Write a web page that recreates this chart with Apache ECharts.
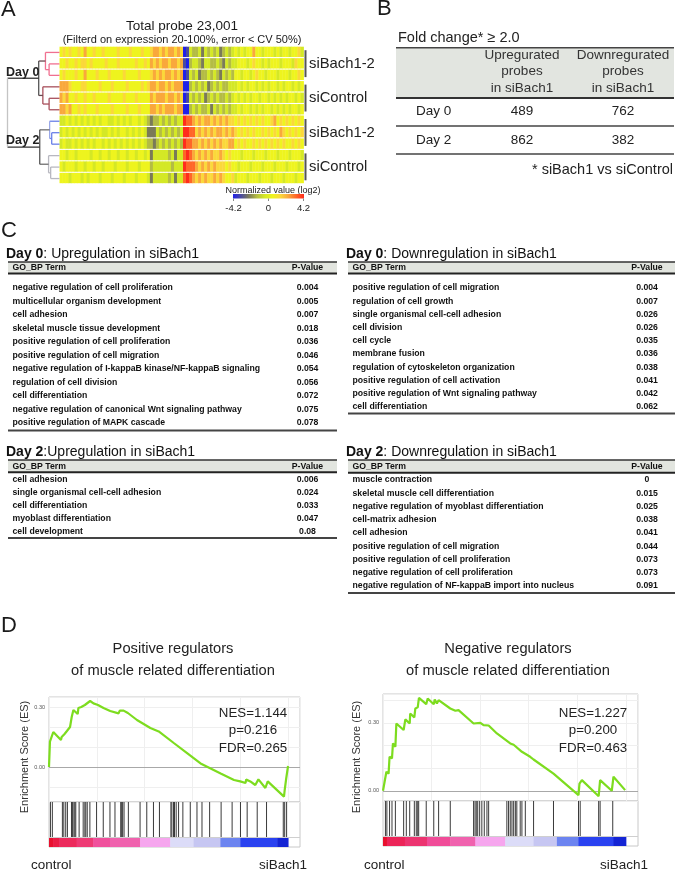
<!DOCTYPE html>
<html><head><meta charset="utf-8">
<script src="https://cdn.jsdelivr.net/npm/echarts@6/dist/echarts.min.js"></script>
<style>html,body{margin:0;padding:0;background:#fff}#c{width:677px;height:870px}</style>
</head><body><div id="c"></div>
<script>
const FONT = '"Liberation Sans", Arial, Helvetica, sans-serif';

// ---------- Panel A: heatmap ----------
const heatGroupLabels = ['siBach1-2', 'siControl', 'siBach1-2', 'siControl'];
const heatLevelValues = [-4.2, -3.27, -2.33, -1.4, -0.47, 0.47, 1.4, 2.33, 3.27, 4.2];
const heatColors = ['#2020e8', '#4a4aa0', '#7a7a58', '#b4bc44', '#d4e826', '#eef41e', '#fbd83a', '#f9a83c', '#ff6628', '#ff2c1c'];
const heatTickLabels = ['-4.2', '0', '4.2'];
const heatRows = [
 '56565565 7 556556555565556555655 67767677676 01 433424343423434 54545575545554545545564',
 '55655656 6 565555655565555565565 76767767767 10 344324433432434 45554565545455545554655',
 '56555655 7 555655565555655556555 67676776767 01 434233434324343 55455456554555455545565',
 '77765556 6 555565556555565555656 77677676777 00 343434234343344 45454554545455454554545',
 '76755655 6 556555565555655565555 76777677676 01 434342343433434 54545455455454545455454',
 '77675565 6 555655556555565556555 77676777677 00 343433424343434 45455454545545454545545',
 '44545454 5 454545544545454554543 23343434344 98 876767767676766 56565656565567565656565',
 '45454545 4 545454454545545454542 22434343434 99 886767676776767 65656565565656576565656',
 '45445454 5 454554545454545454543 32343434343 98 877676767676677 56565565656565656556565',
 '55455455 5 545545545545545545545 24444434244 89 876767676676565 55455545554555455545554',
 '54555455 4 554554555455545554555 34444443444 98 887676767666565 54555455545554555455545',
 '55545554 5 455545554555455545554 24444434244 89 876767667676556 45554555455545554555455'
];
// dendrogram merges: [childA, childB, height, stubColor, verticalColor]
const dendroMerges = [
 ['r1', 'r2', 0.20, '#f07090', '#f07090'],
 ['r0', 'm0', 0.27, '#f07090', '#f07090'],
 ['r4', 'r5', 0.20, '#a8505c', '#a8505c'],
 ['r3', 'm2', 0.32, '#a8505c', '#a8505c'],
 ['m1', 'm3', 0.40, '#6a4a50', '#555555'],
 ['r7', 'r8', 0.15, '#6a80e8', '#6a80e8'],
 ['r6', 'm5', 0.19, '#6a80e8', '#9aa8e8'],
 ['r10', 'r11', 0.17, '#b8b8c0', '#b8b8c0'],
 ['r9', 'm7', 0.21, '#b8b8c0', '#b8b8c0'],
 ['m6', 'm8', 0.38, '#707070', '#555555'],
 ['m4', 'm9', 1.00, '#333333', '#c4c4c4']
];
const dayLabels = ['Day 0', 'Day 2'];

// ---------- Panel B ----------
const foldHeaders = ['Upregurated\nprobes\nin siBach1', 'Downregurated\nprobes\nin siBach1'];
const foldDays = ['Day 0', 'Day 2'];
const foldUp = [489, 862];
const foldDown = [762, 382];

// ---------- Panel C ----------
const day0UpTerms = ['negative regulation of cell proliferation', 'multicellular organism development', 'cell adhesion', 'skeletal muscle tissue development', 'positive regulation of cell proliferation', 'positive regulation of cell migration', 'negative regulation of I-kappaB kinase/NF-kappaB signaling', 'regulation of cell division', 'cell differentiation', 'negative regulation of canonical Wnt signaling pathway', 'positive regulation of MAPK cascade'];
const day0UpP = ['0.004', '0.005', '0.007', '0.018', '0.036', '0.046', '0.054', '0.056', '0.072', '0.075', '0.078'];
const day0DownTerms = ['positive regulation of cell migration', 'regulation of cell growth', 'single organismal cell-cell adhesion', 'cell division', 'cell cycle', 'membrane fusion', 'regulation of cytoskeleton organization', 'positive regulation of cell activation', 'positive regulation of Wnt signaling pathway', 'cell differentiation'];
const day0DownP = ['0.004', '0.007', '0.026', '0.026', '0.035', '0.036', '0.038', '0.041', '0.042', '0.062'];
const day2UpTerms = ['cell adhesion', 'single organismal cell-cell adhesion', 'cell differentiation', 'myoblast differentiation', 'cell development'];
const day2UpP = ['0.006', '0.024', '0.033', '0.047', '0.08'];
const day2DownTerms = ['muscle contraction', 'skeletal muscle cell differentiation', 'negative regulation of myoblast differentiation', 'cell-matrix adhesion', 'cell adhesion', 'positive regulation of cell migration', 'positive regulation of cell proliferation', 'negative regulation of cell proliferation', 'negative regulation of NF-kappaB import into nucleus'];
const day2DownP = ['0', '0.015', '0.025', '0.038', '0.041', '0.044', '0.073', '0.073', '0.091'];

// ---------- Panel D ----------
const posTitle = ['Positive regulators', 'of muscle related differentiation'];
const negTitle = ['Negative regulators', 'of muscle related differentiation'];
const posStats = ['NES=1.144', 'p=0.216', 'FDR=0.265'];
const negStats = ['NES=1.227', 'p=0.200', 'FDR=0.463'];
const posES = [[0,0],[0.4,0],[0.4,0.127],[1.8,0.175],[5.0,0.135],[5.3,0.15],[6.5,0.165],[7.5,0.18],[8.8,0.2],[9.5,0.25],[10.2,0.285],[12.0,0.265],[12.3,0.295],[13.5,0.30],[15.0,0.31],[17.2,0.33],[18.6,0.318],[20.5,0.31],[22.8,0.295],[25.6,0.28],[29.1,0.268],[29.6,0.282],[31.2,0.282],[33,0.27],[36.8,0.235],[42.4,0.195],[45.9,0.178],[52.2,0.12],[57.9,0.068],[63.4,0.018],[67.6,-0.007],[71.8,-0.032],[77.4,-0.065],[80,-0.072],[82.2,-0.08],[82.5,-0.062],[84.2,-0.072],[86.3,-0.09],[87.6,-0.062],[90.5,-0.105],[91.5,-0.072],[98.3,-0.148],[98.6,-0.115],[99.2,-0.06],[99.7,-0.065],[100,0.005]];
const negES = [[0,0],[0.7,-0.004],[1.4,0.084],[2.3,0.076],[2.7,0.15],[3.7,0.143],[4.1,0.209],[5.1,0.194],[5.5,0.297],[8.5,0.268],[9.2,0.315],[11.0,0.297],[11.2,0.341],[12.9,0.324],[13.3,0.363],[14.3,0.368],[14.8,0.41],[17.8,0.382],[18.4,0.407],[20.9,0.382],[21.3,0.403],[22.2,0.385],[22.9,0.40],[27.7,0.363],[28.3,0.37],[29.8,0.353],[31.1,0.356],[37.3,0.297],[37.9,0.304],[40.1,0.30],[41.4,0.29],[43.5,0.288],[46.9,0.253],[52.4,0.209],[53.8,0.203],[57.2,0.172],[60.6,0.15],[62,0.138],[70.2,0.076],[70.9,0.082],[80.5,-0.019],[80.9,0.032],[81.9,0.047],[88.8,-0.024],[89.4,0.047],[94.2,0.0],[94.9,0.062],[99.7,0.003]];
const posHits = [0.6,1.4,5.6,6.2,7.0,7.7,9.4,9.8,10.4,10.8,11.2,12.6,14.3,15.0,15.4,16.0,17.1,19.9,22.7,25.5,27.6,30.0,30.4,30.8,31.4,33.2,38.1,40.9,43.7,46.2,51.0,51.4,52.1,52.5,53.2,54.2,56.0,59.1,61.9,64.0,67.2,72.0,76.6,80.1,82.9,87.1,91.0,98.0,98.6,99.4];
const negHits = [1.0,1.6,2.7,3.7,5.1,8.5,9.6,11.0,12.9,13.7,14.3,14.7,17.8,20.9,22.9,27.7,37.3,37.9,38.4,39.0,39.8,40.7,41.7,42.8,43.5,51.0,51.7,52.4,53.1,53.8,54.5,55.1,56.5,57.2,58.6,62.0,70.2,80.5,81.2,88.8,89.4,94.6];
const posBands = [[0,1.7,'#e8102e'],[1.7,4.2,'#ea1c44'],[4.2,11.5,'#ec2a5c'],[11.5,18.5,'#ee3a74'],[18.5,25.5,'#f0509c'],[25.5,38.1,'#f062ae'],[38.1,50.7,'#f6a6ee'],[50.7,60.5,'#dcdcf8'],[60.5,71.7,'#c6c6f2'],[71.7,80.1,'#6c84f0'],[80.1,95.5,'#2a42f0'],[95.5,100,'#1424d4']];
const negBands = [[0,1.6,'#e8102e'],[1.6,9,'#ec2458'],[9,18.1,'#ec3470'],[18.1,27.7,'#f04c98'],[27.7,38,'#f062ae'],[38,50.3,'#f6a6ee'],[50.3,62,'#dcdcf8'],[62,71.6,'#c6c6f2'],[71.6,80.5,'#6c84f0'],[80.5,94.9,'#2a42f0'],[94.9,100,'#1424d4']];

// ---------- build ----------
const chart = echarts.init(document.getElementById('c'), null, {renderer: 'canvas'});

const heatData = [];
const rowStrs = heatRows.map(s => s.replace(/ /g, ''));
const nCols = rowStrs[0].length;
rowStrs.forEach((s, r) => { for (let c = 0; c < s.length; c++) heatData.push([c, r, heatLevelValues[+s[c]]]); });

const pos = {}, hgt = {};
for (let i = 0; i < 12; i++) { pos['r' + i] = i + 0.5; hgt['r' + i] = 0; }
const dendroData = [];
dendroMerges.forEach((m, i) => {
  const [a, b, h] = m;
  dendroData.push([pos[a], pos[b], hgt[a], hgt[b], h]);
  pos['m' + i] = (pos[a] + pos[b]) / 2; hgt['m' + i] = h;
});

const G = [];
function T(x, y, text, size, o) {
  o = o || {};
  const al = o.align || 'left', va = o.va || 'middle';
  const st = {text: text, fontSize: size, fontFamily: FONT, fontWeight: o.bold ? 'bold' : 'normal', fill: o.color || '#1a1a1a',
    align: al, textAlign: al, verticalAlign: va, textVerticalAlign: va};
  if (o.lineHeight) st.lineHeight = o.lineHeight;
  if (o.rich) st.rich = o.rich;
  const el = {type: 'text', x: x, y: y, silent: true, z: 100, style: st};
  if (o.rotation) el.rotation = o.rotation;
  G.push(el);
}
function L(x1, y1, x2, y2, color, w) {
  G.push({type: 'line', silent: true, z: 100, shape: {x1, y1, x2, y2}, style: {stroke: color, lineWidth: w}});
}
function R(x, y, w, h, fill, z) {
  G.push({type: 'rect', silent: true, z: z || 90, shape: {x, y, width: w, height: h}, style: {fill: fill}});
}

// Panel A texts
const HX = 59.5, HY = 46.7, HW = 244, HH = 137.6;
T(1, 10, 'A', 22);
T(182, 26, 'Total probe 23,001', 13.5, {align: 'center'});
T(182, 39.5, '(Filterd on expression 20-100%, error < CV 50%)', 11, {align: 'center'});
const rowH = HH / 12;
heatGroupLabels.forEach((lab, g) => {
  const y0 = HY + g * 3 * rowH, y1 = y0 + 3 * rowH;
  L(305.5, y0 + 3.5, 305.5, y1 - 4, '#555', 2);
  T(309, (y0 + y1) / 2, lab, 14.8, {color: '#222'});
});
const dayNodeY = [HY + pos['m4'] * rowH, HY + pos['m9'] * rowH];
dayLabels.forEach((d, i) => T(6, dayNodeY[i] + 0.5, d, 12.5, {bold: true, va: 'bottom', color: '#222'}));
T(273, 190.5, 'Normalized value (log2)', 9, {align: 'center', color: '#222'});
G.push({type: 'rect', silent: true, z: 100, shape: {x: 233, y: 194, width: 71, height: 4.5},
  style: {fill: new echarts.graphic.LinearGradient(0, 0, 1, 0, heatColors.map((c, i) => ({offset: i / (heatColors.length - 1), color: c})))}});
[233.5, 268.5, 303.5].forEach((x, i) => { L(x, 198.5, x, 201, '#888', 1); T(x, 208.5, heatTickLabels[i], 9.5, {align: 'center', color: '#222'}); });

// Panel B
T(377, 9, 'B', 22);
T(398, 38, 'Fold change* \u2265 2.0', 14.5, {color: '#222'});
R(396, 48, 278, 49.5, '#e2e5e0');
L(396, 47.7, 674, 47.7, '#444', 1.5);
L(396, 98, 674, 98, '#333', 2);
const foldCX = [522, 623];
foldHeaders.forEach((h, i) => T(foldCX[i], 71.7, h, 13.5, {align: 'center', lineHeight: 16.3, color: '#333'}));
const foldY = [111.7, 140];
foldDays.forEach((d, i) => {
  T(416, foldY[i], d, 13.5, {color: '#222'});
  T(foldCX[0], foldY[i], String(foldUp[i]), 13.5, {align: 'center', color: '#222'});
  T(foldCX[1], foldY[i], String(foldDown[i]), 13.5, {align: 'center', color: '#222'});
});
L(396, 126, 674, 126, '#444', 1.5);
L(396, 154, 674, 154, '#444', 1.5);
T(673, 170, '* siBach1 vs siControl', 14.5, {align: 'right', color: '#222'});

// Panel C
T(1, 231, 'C', 22);
function goTable(x0, x1, titleBold, titleRest, titleY, topY, headBotY, rowY0, rowStep, botY, terms, pvals, pCX) {
  T(x0 - 2, titleY, '{b|' + titleBold + '}' + titleRest, 14, {rich: {b: {fontWeight: 'bold', fontSize: 14, fontFamily: FONT, fill: '#111', color: '#111'}}, color: '#111'});
  R(x0, topY, x1 - x0, headBotY - topY, '#e2e5df');
  L(x0, topY, x1, topY, '#333', 1.6);
  L(x0, headBotY, x1, headBotY, '#222', 2);
  T(x0 + 4.5, (topY + headBotY) / 2 + 0.3, 'GO_BP Term', 8.7, {bold: true, color: '#111'});
  T(pCX, (topY + headBotY) / 2 + 0.3, 'P-Value', 8.7, {bold: true, color: '#111', align: 'center'});
  terms.forEach((t, i) => {
    const y = rowY0 + i * rowStep;
    T(x0 + 4.5, y, t, 8.7, {bold: true, color: '#111'});
    T(pCX, y, pvals[i], 8.7, {bold: true, color: '#111', align: 'center'});
  });
  L(x0, botY, x1, botY, '#444', 2);
}
goTable(8, 337, 'Day 0', ': Upregulation in siBach1', 254, 262, 273.5, 288, 13.5, 430.5, day0UpTerms, day0UpP, 307.5);
goTable(348, 675, 'Day 0', ': Downregulation in siBach1', 254, 262, 273.5, 288, 13.2, 413.5, day0DownTerms, day0DownP, 647);
goTable(8, 337, 'Day 2', ':Upregulation in siBach1', 451.7, 460, 472.3, 480, 12.95, 538, day2UpTerms, day2UpP, 307.5);
goTable(348, 675, 'Day 2', ': Downregulation in siBach1', 451.7, 460, 472.7, 480, 13.25, 593, day2DownTerms, day2DownP, 647);

// Panel D texts
T(1, 626, 'D', 22);
posTitle.forEach((t, i) => T(173, 649 + i * 22, t, 14.7, {align: 'center', color: '#222'}));
negTitle.forEach((t, i) => T(508, 649 + i * 22, t, 14.7, {align: 'center', color: '#222'}));
posStats.forEach((t, i) => T(253, 713 + i * 17.5, t, 13.3, {align: 'center', color: '#222'}));
negStats.forEach((t, i) => T(593, 713 + i * 17.5, t, 13.3, {align: 'center', color: '#222'}));
T(25, 757, 'Enrichment Score (ES)', 11, {align: 'center', rotation: Math.PI / 2, color: '#333'});
T(357, 757, 'Enrichment Score (ES)', 11, {align: 'center', rotation: Math.PI / 2, color: '#333'});
T(31, 865, 'control', 13.5, {color: '#222'});
T(307, 865, 'siBach1', 13.5, {align: 'right', color: '#222'});
T(364, 865, 'control', 13.5, {color: '#222'});
T(648, 865, 'siBach1', 13.5, {align: 'right', color: '#222'});

// ----- axes -----
const hidden = (gi, min, max, inv) => ({gridIndex: gi, type: 'value', min: min, max: max, inverse: !!inv, show: false});
const BAR_SPLIT = 0.222;
function esY(gi, min, max) {
  return {gridIndex: gi, type: 'value', min: min, max: max,
    axisLine: {show: false}, axisTick: {show: false},
    axisLabel: {fontSize: 5.5, color: '#555', margin: 4, fontFamily: FONT, customValues: [0, 0.3],
      formatter: v => (Math.abs(v) < 1e-6 || Math.abs(v - 0.3) < 1e-6) ? v.toFixed(2) : ''},
    splitLine: {show: true, lineStyle: {color: '#efefef', width: 1}}};
}
function esX(gi) {
  return {gridIndex: gi, type: 'value', min: 0, max: 105,
    axisLine: {show: false}, axisTick: {show: false}, axisLabel: {show: false},
    splitLine: {show: true, lineStyle: {color: '#efefef', width: 1}}};
}
const gridBorder = {show: true, borderColor: '#c8c8c8', borderWidth: 1, backgroundColor: 'transparent'};

function esSeries(xi, data) {
  return {type: 'line', xAxisIndex: xi, yAxisIndex: xi, data: data, showSymbol: false, symbol: 'none',
    lineStyle: {color: '#7ddc1f', width: 2.2}, z: 5, silent: true,
    markLine: {silent: true, symbol: 'none', label: {show: false}, animation: false,
      lineStyle: {color: '#a8a8a8', width: 1, type: 'solid'}, data: [{yAxis: 0}]}};
}
function hitSeries(xi, hits) {
  return {type: 'custom', xAxisIndex: xi, yAxisIndex: xi, data: hits.map(h => [h]), silent: true,
    renderItem: (params, api) => {
      const a = api.coord([api.value(0), BAR_SPLIT]), b = api.coord([api.value(0), 1]);
      return {type: 'line', shape: {x1: a[0], y1: a[1], x2: b[0], y2: b[1]}, style: {stroke: '#3a3a3a', lineWidth: 1}};
    },
    markLine: {silent: true, symbol: 'none', label: {show: false}, animation: false,
      lineStyle: {color: '#cfcfcf', width: 1, type: 'solid'}, data: [{yAxis: BAR_SPLIT}]}};
}
function bandSeries(xi, bands) {
  return {type: 'custom', xAxisIndex: xi, yAxisIndex: xi, data: bands.map(b => [b[0], b[1]]), silent: true,
    renderItem: (params, api) => {
      const a = api.coord([api.value(0), BAR_SPLIT]), b = api.coord([api.value(1), 0]);
      return {type: 'rect', shape: {x: a[0], y: a[1], width: b[0] - a[0] + 0.5, height: b[1] - a[1]},
        style: {fill: bands[params.dataIndex][2]}};
    }};
}

const option = {
  animation: false,
  backgroundColor: '#ffffff',
  grid: [
    {left: HX, top: HY, width: HW, height: HH},
    {left: 7.5, top: HY, width: HX - 7.5, height: HH},
    Object.assign({left: 49, top: 697, width: 251, height: 105}, gridBorder),
    Object.assign({left: 49, top: 802, width: 251, height: 45}, gridBorder),
    Object.assign({left: 383, top: 694, width: 255, height: 107}, gridBorder),
    Object.assign({left: 383, top: 801, width: 255, height: 45}, gridBorder)
  ],
  xAxis: [hidden(0, 0, nCols), hidden(1, 0, 1, true), esX(2), hidden(3, 0, 105), esX(4), hidden(5, 0, 105)],
  yAxis: [hidden(0, 0, 12, true), hidden(1, 0, 12, true), esY(2, -0.175, 0.35), hidden(3, 0, 1), esY(4, -0.045, 0.427), hidden(5, 0, 1)],
  visualMap: {type: 'continuous', show: false, min: -4.2, max: 4.2, dimension: 2, seriesIndex: 0, inRange: {color: heatColors}},
  series: [
    {type: 'custom', xAxisIndex: 0, yAxisIndex: 0, data: heatData, silent: true,
      renderItem: (params, api) => {
        const c = api.value(0), r = api.value(1);
        const p0 = api.coord([c, r]), p1 = api.coord([c + 1, r + 1]);
        const y = Math.min(p0[1], p1[1]);
        return {type: 'rect', shape: {x: p0[0], y: y, width: p1[0] - p0[0] + 0.4, height: Math.abs(p1[1] - p0[1]) - 1.1},
          style: {fill: api.visual('color')}};
      }},
    {type: 'custom', xAxisIndex: 1, yAxisIndex: 1, data: dendroData, silent: true,
      renderItem: (params, api) => {
        const yA = api.value(0), yB = api.value(1), hA = api.value(2), hB = api.value(3), h = api.value(4);
        const m = dendroMerges[params.dataIndex];
        const a0 = api.coord([hA, yA]), a1 = api.coord([h, yA]), b0 = api.coord([hB, yB]), b1 = api.coord([h, yB]);
        return {type: 'group', children: [
          {type: 'line', shape: {x1: a0[0], y1: a0[1], x2: a1[0], y2: a1[1]}, style: {stroke: m[3], lineWidth: 1.3}},
          {type: 'line', shape: {x1: b0[0], y1: b0[1], x2: b1[0], y2: b1[1]}, style: {stroke: m[3], lineWidth: 1.3}},
          {type: 'line', shape: {x1: a1[0], y1: a1[1], x2: b1[0], y2: b1[1]}, style: {stroke: m[4], lineWidth: 1.3}}
        ]};
      }},
    esSeries(2, posES),
    bandSeries(3, posBands),
    hitSeries(3, posHits),
    esSeries(4, negES),
    bandSeries(5, negBands),
    hitSeries(5, negHits)
  ],
  graphic: {elements: G}
};
chart.setOption(option);
</script>
</body></html>
